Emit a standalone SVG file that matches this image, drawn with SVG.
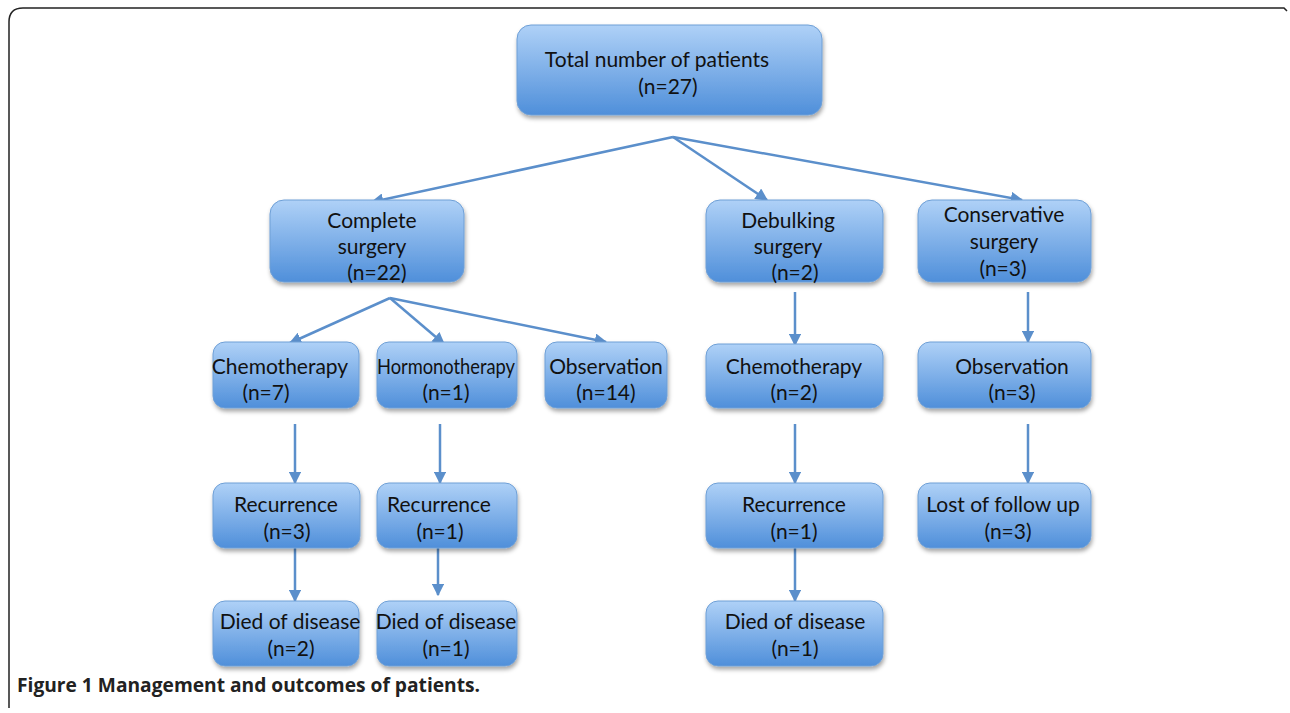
<svg xmlns="http://www.w3.org/2000/svg" width="1290" height="713" viewBox="0 0 1290 713">
<defs>
<linearGradient id="g" x1="0" y1="0" x2="0" y2="1">
<stop offset="0" stop-color="#afd1f7"/>
<stop offset="1" stop-color="#4f8fda"/>
</linearGradient>
<filter id="sh" x="-10%" y="-10%" width="130%" height="140%">
<feDropShadow dx="1" dy="3" stdDeviation="2" flood-color="#000" flood-opacity="0.35"/>
</filter>
<marker id="ah" viewBox="0 0 10 10" refX="9" refY="5" markerWidth="5" markerHeight="5" orient="auto" markerUnits="strokeWidth">
<path d="M0,0 L10,5 L0,10 Z" fill="#5b8fcb"/>
</marker>
<style>
.box{fill:url(#g);stroke:#6e9fd6;stroke-width:1;filter:url(#sh)}
.t{font-family:Lato,"Open Sans",sans-serif;font-size:21px;fill:#111;text-anchor:middle}
.c{stroke:#5b8fcb;stroke-width:2.5;fill:none}
.a{marker-end:url(#ah)}
.cap{font-family:"Open Sans","Noto Sans",sans-serif;font-size:19.2px;font-weight:bold;fill:#222}
</style>
</defs>
<rect width="1290" height="713" fill="#fff"/>
<path d="M9,708 L9,22 Q9,8 23,8 L1284,8 L1287,11" fill="none" stroke="#222" stroke-width="1.5"/>

<g id="connectors">
<line class="c a" x1="673" y1="137" x2="372" y2="202"/>
<line class="c a" x1="673" y1="137" x2="767" y2="200"/>
<line class="c a" x1="673" y1="137" x2="1022" y2="200"/>
<line class="c a" x1="390" y1="298" x2="290" y2="343"/>
<line class="c a" x1="390" y1="298" x2="444" y2="344"/>
<line class="c a" x1="390" y1="298" x2="606" y2="342"/>
<line class="c a" x1="795" y1="292" x2="795" y2="345"/>
<line class="c a" x1="1028" y1="292" x2="1028" y2="342"/>
<line class="c a" x1="295" y1="424" x2="295" y2="483"/>
<line class="c a" x1="440" y1="424" x2="440" y2="483"/>
<line class="c a" x1="795" y1="424" x2="795" y2="483"/>
<line class="c a" x1="1028" y1="424" x2="1028" y2="483"/>
<line class="c a" x1="295" y1="548" x2="295" y2="601"/>
<line class="c a" x1="438" y1="548" x2="438" y2="595"/>
<line class="c a" x1="795" y1="548" x2="795" y2="601"/>
</g>

<g id="total">
<rect class="box" x="517" y="25" width="305" height="90" rx="14"/>
<text class="t" x="657" y="67">Total number of patients</text>
<text class="t" x="668" y="94">(n=27)</text>
</g>
<g id="complete">
<rect class="box" x="270" y="200" width="194" height="82" rx="14"/>
<text class="t" x="372" y="228">Complete</text>
<text class="t" x="372" y="254">surgery</text>
<text class="t" x="377" y="280">(n=22)</text>
</g>
<g id="debulking">
<rect class="box" x="706" y="200" width="177" height="82" rx="14"/>
<text class="t" x="788" y="228">Debulking</text>
<text class="t" x="788" y="254">surgery</text>
<text class="t" x="795" y="280">(n=2)</text>
</g>
<g id="conservative">
<rect class="box" x="918" y="200" width="173" height="82" rx="14"/>
<text class="t" x="1004" y="222">Conservative</text>
<text class="t" x="1004" y="249">surgery</text>
<text class="t" x="1003" y="276">(n=3)</text>
</g>
<g id="chemo7">
<rect class="box" x="213" y="342" width="146" height="66" rx="12"/>
<text class="t" x="280" y="374">Chemotherapy</text>
<text class="t" x="266" y="400">(n=7)</text>
</g>
<g id="hormono">
<rect class="box" x="377" y="342" width="140" height="66" rx="12"/>
<text class="t" x="446" y="374" textLength="138" lengthAdjust="spacingAndGlyphs">Hormonotherapy</text>
<text class="t" x="446" y="400">(n=1)</text>
</g>
<g id="obs14">
<rect class="box" x="545" y="342" width="122" height="66" rx="12"/>
<text class="t" x="606" y="374">Observation</text>
<text class="t" x="606" y="400">(n=14)</text>
</g>
<g id="chemo2">
<rect class="box" x="706" y="344" width="177" height="64" rx="12"/>
<text class="t" x="794" y="374">Chemotherapy</text>
<text class="t" x="794" y="400">(n=2)</text>
</g>
<g id="obs3">
<rect class="box" x="918" y="342" width="173" height="66" rx="12"/>
<text class="t" x="1012" y="374">Observation</text>
<text class="t" x="1012" y="400">(n=3)</text>
</g>
<g id="rec3">
<rect class="box" x="213" y="483" width="147" height="65" rx="12"/>
<text class="t" x="286" y="512">Recurrence</text>
<text class="t" x="287" y="539">(n=3)</text>
</g>
<g id="rec1">
<rect class="box" x="377" y="483" width="140" height="65" rx="12"/>
<text class="t" x="439" y="512">Recurrence</text>
<text class="t" x="440" y="539">(n=1)</text>
</g>
<g id="rec1b">
<rect class="box" x="706" y="483" width="177" height="65" rx="12"/>
<text class="t" x="794" y="512">Recurrence</text>
<text class="t" x="794" y="539">(n=1)</text>
</g>
<g id="lost">
<rect class="box" x="918" y="483" width="173" height="65" rx="12"/>
<text class="t" x="1003" y="512">Lost of follow up</text>
<text class="t" x="1008" y="539">(n=3)</text>
</g>
<g id="died2">
<rect class="box" x="213" y="601" width="146" height="65" rx="12"/>
<text class="t" x="290" y="629">Died of disease</text>
<text class="t" x="291" y="656">(n=2)</text>
</g>
<g id="died1">
<rect class="box" x="377" y="601" width="140" height="65" rx="12"/>
<text class="t" x="446" y="629">Died of disease</text>
<text class="t" x="446" y="656">(n=1)</text>
</g>
<g id="died1b">
<rect class="box" x="706" y="601" width="177" height="65" rx="12"/>
<text class="t" x="795" y="629">Died of disease</text>
<text class="t" x="795" y="656">(n=1)</text>
</g>

<text class="cap" x="17" y="692">Figure 1 Management and outcomes of patients.</text>
</svg>
